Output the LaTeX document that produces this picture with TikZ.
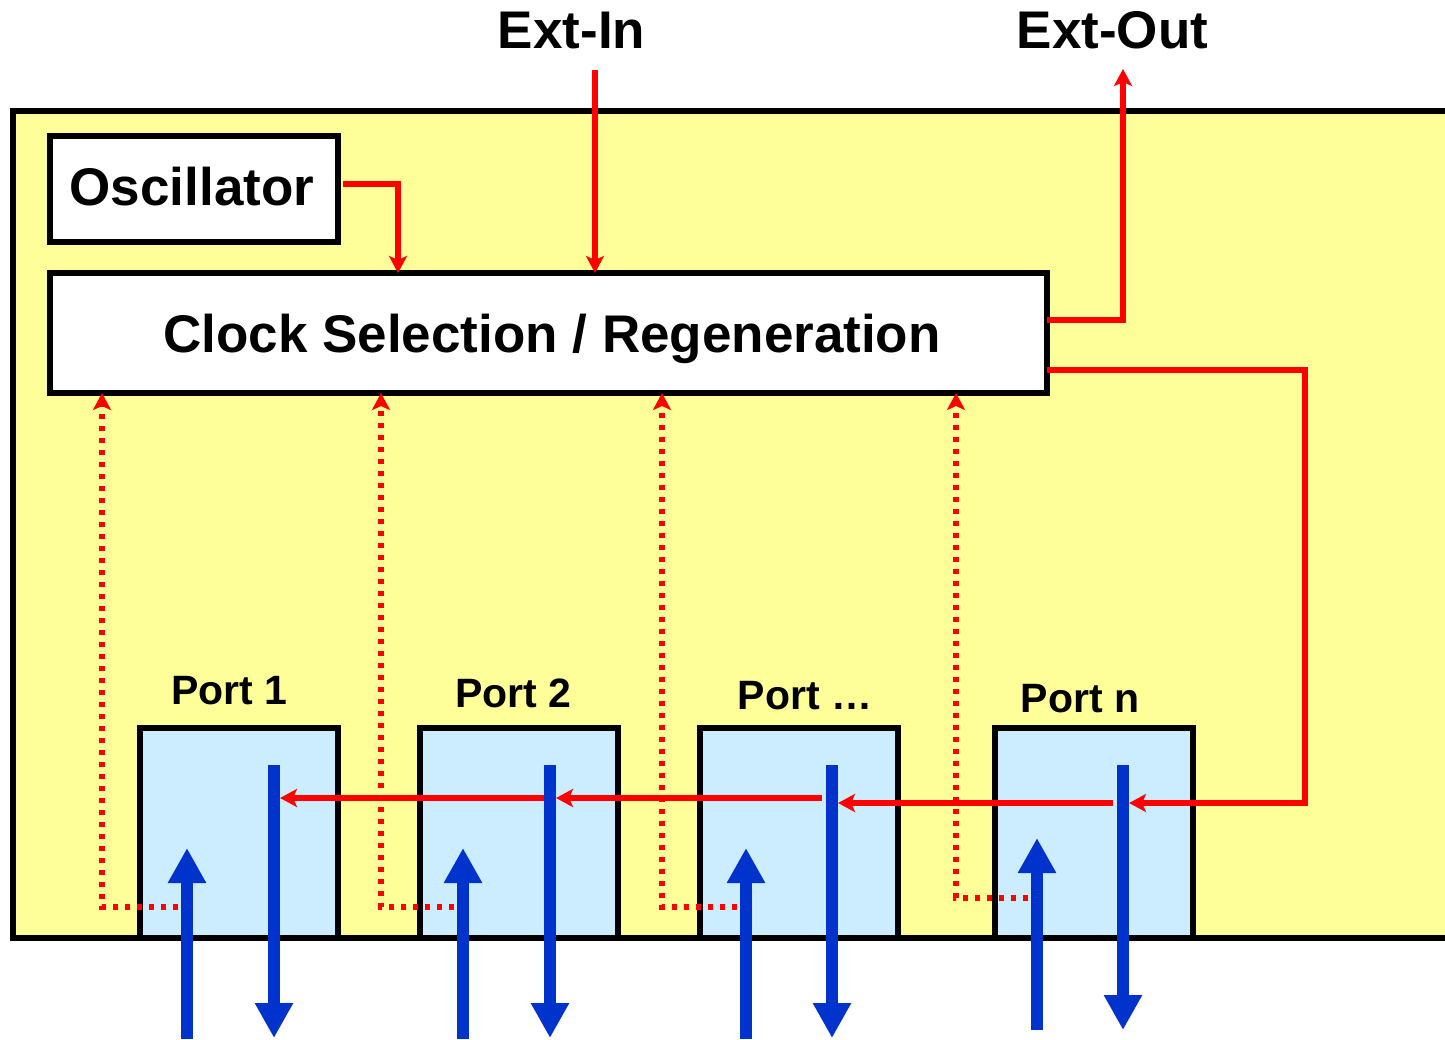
\documentclass[tikz,border=0pt]{standalone}
\usepackage{fontspec}
\setmainfont{Liberation Sans}
\usetikzlibrary{arrows.meta}
\definecolor{bgyellow}{RGB}{255,255,153}
\definecolor{portblue}{RGB}{204,236,255}
\definecolor{arrowblue}{RGB}{0,51,204}
\definecolor{sigred}{RGB}{255,0,0}
\begin{document}
\begin{tikzpicture}[x=1pt,y=-1pt,
  box/.style={draw=black, line width=5.5pt, fill=white, inner sep=0pt, outer sep=0pt, anchor=north west},
  portbox/.style={box, fill=portblue, minimum width=198pt, minimum height=210pt},
  bigtxt/.style={font=\fontsize{53}{60}\selectfont\bfseries, inner sep=0pt, anchor=base},
  porttxt/.style={font=\fontsize{41}{48}\selectfont\bfseries, inner sep=0pt, anchor=base},
  sig/.style={draw=sigred, line width=5.5pt, -{Stealth[length=17pt,width=18pt,inset=4pt]}},
  feedback/.style={sig, dash pattern=on 5.5pt off 6.5pt},
  data/.style={draw=arrowblue, line width=12pt, -{Triangle[length=35pt,width=36pt]}}]
\useasboundingbox (0,0) rectangle (1445,1039);
% chassis
\fill[bgyellow] (13,111) rectangle (1460,938);
\draw[line width=5.5pt] (1460,111) -- (13,111) -- (13,938) -- (1460,938);
% boxes
\node[box, minimum width=288pt, minimum height=106pt] (osc) at (50,136) {};
\node[bigtxt] (osctxt) at (192,205) {Oscillator};
\node[box, minimum width=997pt, minimum height=120pt] (clock) at (50,273) {};
\node[bigtxt] (clocktxt) at (552,352) {Clock Selection / Regeneration};
\node[bigtxt] (extin) at (571.5,48) {Ext-In};
\node[bigtxt] (extout) at (1112.5,48) {Ext-Out};
% ports
\node[portbox] (p1) at (140,728) {};
\node[portbox] (p2) at (420,728) {};
\node[portbox] (p3) at (700,728) {};
\node[portbox] (pn) at (995,728) {};
\node[porttxt] (l1) at (229.5,704) {Port 1};
\node[porttxt] (l2) at (513.5,707) {Port 2};
\node[porttxt] (l3) at (805,709) {Port …};
\node[porttxt] (ln) at (1080,712) {Port n};
% red clock signals
\draw[sig] (343,184) -| (398,0 |- clock.north);
\draw[sig] (595,70) -- (595,0 |- clock.north);
\draw[sig] (clock.east |- 0,320) -| (1123,69);
\draw[sig] (clock.east |- 0,370) -| (1305,803) -- (1129,803);
\draw[sig] (1113,803) -- (838,803);
\draw[sig] (822,798) -- (556,798);
\draw[sig] (545,798) -- (280,798);
% recovered clocks (dotted)
\draw[feedback] (190,907) -| (102,0 |- clock.south);
\draw[feedback] (466,907) -| (381,0 |- clock.south);
\draw[feedback] (749,907) -| (662,0 |- clock.south);
\draw[feedback] (1040,898) -| (956,0 |- clock.south);
% data
\draw[data] (187,1039) -- (187,848);
\draw[data] (463,1039) -- (463,848);
\draw[data] (746,1039) -- (746,848);
\draw[data] (1037,1030) -- (1037,838);
\draw[data] (274,765) -- (274,1038);
\draw[data] (550,765) -- (550,1038);
\draw[data] (832,765) -- (832,1038);
\draw[data] (1123,765) -- (1123,1030);
\end{tikzpicture}
\end{document}
